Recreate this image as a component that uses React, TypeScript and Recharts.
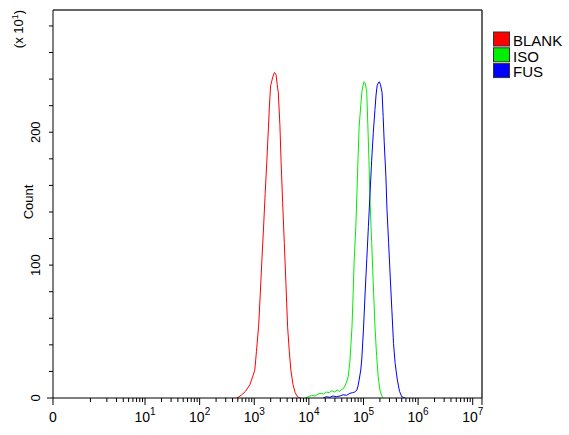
import React from 'react';
import { LineChart, Line, XAxis, YAxis, ReferenceLine } from 'recharts';

// series
const seriesNames = ['BLANK', 'ISO', 'FUS'];
const seriesColors = ['#ff0000', '#00ee00', '#0000ff'];

// log10 of intensity / count (x10^1)
const blankLog = [2.68, 2.76, 2.84, 2.92, 2.97, 3.01, 3.04, 3.08, 3.11, 3.14, 3.17, 3.2, 3.23, 3.26, 3.28, 3.3, 3.33, 3.35, 3.37, 3.39, 3.4, 3.42, 3.44, 3.47, 3.49, 3.52, 3.55, 3.58, 3.61, 3.64, 3.67, 3.71, 3.75, 3.79, 3.84];
const blankCount = [0, 2, 5, 10, 16, 21, 35, 54, 78, 104, 128, 154, 178, 204, 222, 235, 240, 243, 245, 244, 243, 236, 230, 205, 179, 147, 117, 86, 54, 36, 21, 10, 4, 1, 0];

const isoLog = [3.94, 3.99, 4.05, 4.11, 4.17, 4.22, 4.27, 4.32, 4.37, 4.42, 4.47, 4.52, 4.56, 4.6, 4.63, 4.66, 4.69, 4.72, 4.75, 4.77, 4.79, 4.81, 4.83, 4.86, 4.88, 4.9, 4.92, 4.95, 4.97, 4.99, 5.01, 5.03, 5.05, 5.06, 5.08, 5.1, 5.12, 5.15, 5.18, 5.21, 5.24, 5.27, 5.3, 5.34, 5.37];
const isoCount = [0, 1, 2, 1.5, 3, 3.5, 3, 4.5, 4, 5.5, 4.5, 6, 5, 6.5, 7, 9, 12, 16, 27, 40, 54, 78, 104, 129, 154, 180, 204, 220, 230, 235, 238, 237, 233, 230, 205, 179, 148, 117, 85, 54, 32, 16, 6, 1, 0];

const fusLog = [4.26, 4.32, 4.38, 4.44, 4.5, 4.57, 4.63, 4.69, 4.75, 4.8, 4.84, 4.88, 4.9, 4.92, 4.95, 4.97, 5.0, 5.03, 5.06, 5.09, 5.12, 5.15, 5.18, 5.21, 5.23, 5.25, 5.27, 5.29, 5.31, 5.34, 5.36, 5.38, 5.41, 5.43, 5.46, 5.49, 5.52, 5.55, 5.58, 5.62, 5.66, 5.7, 5.76];
const fusCount = [0, 1, 0.5, 1.5, 1, 1.5, 2.5, 2, 3.5, 4, 4.5, 6, 9, 13.5, 21, 30, 52, 79, 104, 129, 154, 179, 200, 217, 228, 235, 237, 238, 236, 230, 212, 192, 167, 142, 117, 91, 66, 41, 26, 13.5, 5, 1, 0];

// axes
const decadeExps = [1, 2, 3, 4, 5, 6, 7];
const yTicks = [0, 20, 40, 60, 80, 100, 120, 140, 160, 180, 200, 220, 240, 260, 280];
const yLabelled = [0, 100, 200];

const X_ZERO = -0.685; // where "0" sits on the log axis
const X_MAX = 7.17;
const Y_MAX = 292;

const FONT = '"Liberation Sans", Arial, sans-serif';

const toPoints = (xs: number[], ys: number[]) => xs.map((x, i) => ({ x, y: ys[i] }));
const seriesData = [toPoints(blankLog, blankCount), toPoints(isoLog, isoCount), toPoints(fusLog, fusCount)];

// minor ticks 1..9 in each decade below 10^7
const minorTicks: number[] = [];
for (let d = 0; d < 7; d++) {
  for (let k = 1; k <= 9; k++) {
    if (k === 1 && d > 0) continue;
    minorTicks.push(d + Math.log10(k));
  }
}
const xTicks = [X_ZERO, ...decadeExps, ...minorTicks, X_MAX];

const XTick = ({ x, y, payload }: any) => {
  const v = payload.value;
  const isZero = v === X_ZERO;
  const isDecade = decadeExps.includes(v);
  const isEdge = v === X_MAX;
  const major = isZero || isDecade || isEdge;
  return (
    <g>
      <line x1={x} y1={y} x2={x} y2={y + (major ? 7 : 4)} stroke="#000" strokeWidth={1} />
      {isZero && (
        <text x={x} y={y + 24} textAnchor="middle" fontSize={14} fontFamily={FONT} fill="#000">0</text>
      )}
      {isDecade && (
        <text x={x} y={y + 24} textAnchor="middle" fontSize={14} fontFamily={FONT} fill="#000">
          <tspan>10</tspan>
          <tspan dy={-7} fontSize={10}>{v}</tspan>
        </text>
      )}
    </g>
  );
};

const YTick = ({ x, y, payload }: any) => {
  const v = payload.value;
  return (
    <g>
      <line x1={x - (v === 0 ? 6 : 4)} y1={y} x2={x} y2={y} stroke="#000" strokeWidth={1} />
      {yLabelled.includes(v) && (
        <text
          transform={`translate(${x - 13},${y}) rotate(-90)`}
          textAnchor="middle"
          fontSize={13}
          fontFamily={FONT}
          fill="#000"
        >
          {v}
        </text>
      )}
    </g>
  );
};

export default function App() {
  return (
    <div style={{ position: 'absolute', left: 0, top: 0, width: 569, height: 435, background: '#fff' }}>
      <LineChart width={569} height={435} margin={{ top: 10, right: 87, bottom: 0, left: 0 }}>
        <XAxis
          type="number"
          dataKey="x"
          domain={[X_ZERO, X_MAX]}
          allowDataOverflow
          ticks={xTicks}
          interval={0}
          tickSize={0}
          tickMargin={0}
          tickLine={false}
          tick={<XTick />}
          height={37}
          axisLine={{ stroke: '#000' }}
        />
        <YAxis
          type="number"
          domain={[0, Y_MAX]}
          allowDataOverflow
          ticks={yTicks}
          interval={0}
          tickSize={0}
          tickMargin={0}
          tickLine={false}
          tick={<YTick />}
          width={53}
          axisLine={{ stroke: '#000' }}
        />
        <ReferenceLine y={Y_MAX} stroke="#333" strokeWidth={1.5} />
        <ReferenceLine x={X_MAX} stroke="#333" strokeWidth={1.5} />
        {seriesData.map((d, i) => (
          <Line
            key={seriesNames[i]}
            data={d}
            dataKey="y"
            type="linear"
            stroke={seriesColors[i]}
            strokeWidth={1}
            dot={false}
            activeDot={false}
            isAnimationActive={false}
          />
        ))}
      </LineChart>
      <svg
        width={569}
        height={435}
        style={{ position: 'absolute', left: 0, top: 0, pointerEvents: 'none' }}
        fontFamily={FONT}
      >
        <text transform="translate(33,202) rotate(-90)" textAnchor="middle" fontSize={13} fill="#000">
          Count
        </text>
        <text transform="translate(23,29) rotate(-90)" textAnchor="middle" fontSize={13} fill="#000">
          <tspan>(x 10</tspan>
          <tspan dy={-5} fontSize={9}>1</tspan>
          <tspan dy={5}>)</tspan>
        </text>
        {seriesNames.map((name, i) => (
          <g key={name}>
            <rect
              x={493.5}
              y={32 + i * 15.8}
              width={16}
              height={14}
              fill={seriesColors[i]}
              stroke="#333"
              strokeWidth={1}
            />
            <text x={513} y={46 + i * 15.7} fontSize={15} fill="#000">
              {name}
            </text>
          </g>
        ))}
      </svg>
    </div>
  );
}
